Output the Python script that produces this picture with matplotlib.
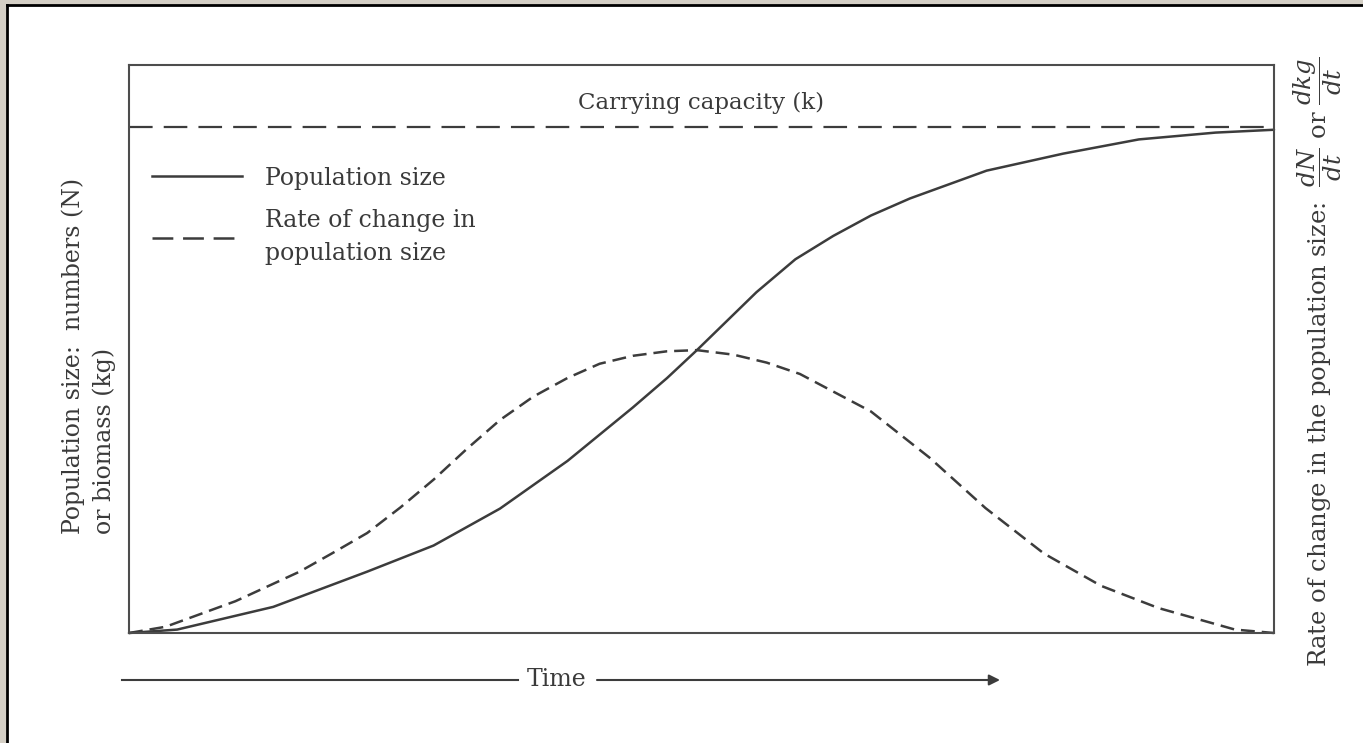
import matplotlib
matplotlib.use("Agg")
import matplotlib.pyplot as plt
from matplotlib.lines import Line2D
from matplotlib.patches import Rectangle

# ---- data (x = % of time axis, y = % of axis height) ----
time_pop = [0, 4.2, 12.6, 20.8, 26.6, 32.4, 38.3, 44.0, 47.0, 49.6, 54.8, 58.2,
            61.5, 64.8, 68.2, 74.9, 81.6, 88.2, 94.9, 100]
pop_size = [0, 0.6, 4.6, 10.8, 15.4, 21.9, 30.3, 39.7, 44.9, 49.8, 60.0, 65.8,
            69.9, 73.5, 76.5, 81.4, 84.4, 86.9, 88.1, 88.6]

time_rate = [0, 3.2, 9.3, 14.9, 17.8, 20.8, 23.7, 26.6, 29.5, 32.4, 35.3, 38.3,
             41.1, 44.0, 47.0, 49.6, 52.8, 55.7, 58.6, 64.8, 69.9, 74.8, 79.9,
             84.9, 89.9, 96.6, 100]
rate_change = [0, 1.1, 5.6, 10.8, 14.1, 17.6, 22.1, 27.0, 32.4, 37.5, 41.6, 44.9,
               47.4, 48.8, 49.6, 49.8, 49.0, 47.6, 45.6, 39.0, 30.9, 22.0, 14.0,
               8.3, 4.4, 0.6, 0]

carrying_capacity = 89.0
time_span = [0, 100]

legend_labels = ["Population size", "Rate of change in\npopulation size"]
cap_label = "Carrying capacity (k)"
left_label = "Population size:  numbers (N)\nor biomass (kg)"
right_label = r"Rate of change in the population size:  $\dfrac{dN}{dt}$ or $\dfrac{dkg}{dt}$"
time_label = "Time"

# ---- style ----
plt.rcParams["mathtext.fontset"] = "dejavuserif"
plt.rcParams["lines.scale_dashes"] = False
FONT = "DejaVu Serif"
INK = "#3a3a3a"
LINE = "#3c3c3c"

W, H = 1363, 743
fig = plt.figure(figsize=(W / 100, H / 100), dpi=100)
fig.patch.set_facecolor("#d4cfc5")
fig.patches.append(Rectangle((7 / W, 0), 1 - 7 / W, (H - 5) / H, transform=fig.transFigure,
                             facecolor="white", edgecolor="none", zorder=-10))
fig.add_artist(Line2D([7 / W, 7 / W], [0, (H - 5) / H], transform=fig.transFigure,
                      color="black", lw=2))
fig.add_artist(Line2D([7 / W, 1], [(H - 5) / H, (H - 5) / H], transform=fig.transFigure,
                      color="black", lw=2))

ax = fig.add_axes([129 / W, 110 / H, 1145 / W, 568 / H])
ax.set_xlim(0, 100)
ax.set_ylim(0, 100)
ax.set_xticks([])
ax.set_yticks([])
for s in ax.spines.values():
    s.set_color("#4d4d4d")
    s.set_linewidth(1.5)

ax.plot(time_span, [carrying_capacity] * 2, color=LINE, lw=1.6, dashes=(17, 8), clip_on=False)
ax.plot(time_pop, pop_size, color=LINE, lw=1.8, clip_on=False,
        solid_joinstyle="round", solid_capstyle="round")
ax.plot(time_rate, rate_change, color=LINE, lw=1.8, dashes=(10, 5), clip_on=False,
        dash_joinstyle="round")

ax.text(50, 93.3, cap_label, ha="center", va="center", family=FONT, fontsize=16.5, color=INK)

h1 = Line2D([], [], color=LINE, lw=1.8)
h2 = Line2D([], [], color=LINE, lw=1.8, dashes=(15, 7))
leg = ax.legend([h1, h2], legend_labels, loc="upper left", bbox_to_anchor=(0.020, 0.821),
                frameon=False, borderpad=0, borderaxespad=0, handlelength=3.8,
                handletextpad=1.0, labelspacing=0.8, prop={"family": FONT, "size": 17})
for t in leg.get_texts():
    t.set_linespacing(1.6)
    t.set_color(INK)

fig.text(89 / W, 1 - 534 / H, left_label, rotation=90, ha="center", va="bottom",
         multialignment="left", linespacing=1.4, family=FONT, fontsize=17, color=INK)
fig.text(1318 / W, 1 - 362 / H, right_label, rotation=90, ha="center", va="center",
         family=FONT, fontsize=17.5, color=INK)

ty = 63 / H
fig.add_artist(Line2D([122 / W, 518 / W], [ty, ty], transform=fig.transFigure, color=LINE, lw=1.5))
fig.text(557 / W, ty, time_label, ha="center", va="center", family=FONT, fontsize=17, color=INK)
ax.annotate("", xy=(1000 / W, ty), xytext=(597 / W, ty), xycoords="figure fraction",
            textcoords="figure fraction",
            arrowprops=dict(arrowstyle="-|>", color=LINE, lw=1.5, mutation_scale=16,
                            shrinkA=0, shrinkB=0))

fig.savefig("out.png", dpi=100, facecolor=fig.get_facecolor())
